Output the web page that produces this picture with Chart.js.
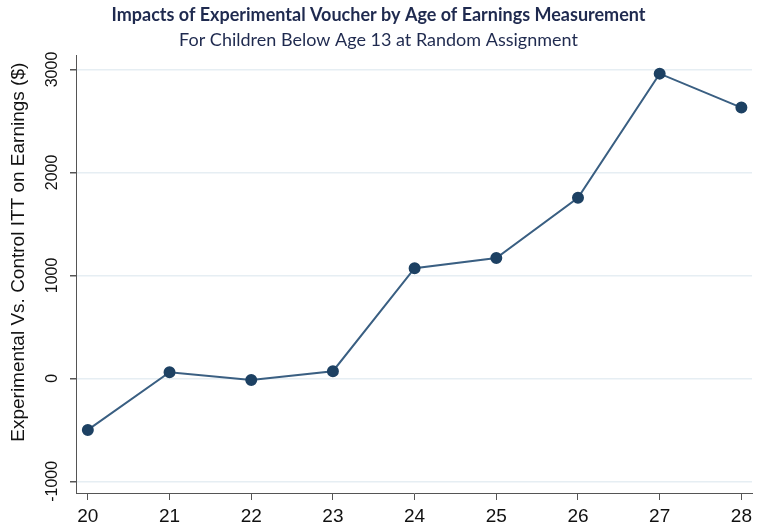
<!DOCTYPE html>
<html lang="en">
<head>
<meta charset="UTF-8" />
<title>Impacts of Experimental Voucher by Age of Earnings Measurement</title>
<script src="https://cdn.jsdelivr.net/npm/chart.js"></script>
<style>
  html, body { margin: 0; padding: 0; background: #fff; }
  #wrap { width: 759px; height: 527px; position: relative; }
</style>
</head>
<body>
<div id="wrap"><canvas id="grafico"></canvas></div>

<script>
  // data
  const ages = [20, 21, 22, 23, 24, 25, 26, 27, 28];
  const impacts = [-500, 60, -15, 70, 1070, 1170, 1755, 2960, 2630];
  const yTicks = [-1000, 0, 1000, 2000, 3000];
  const xTicks = [20, 21, 22, 23, 24, 25, 26, 27, 28];
  const yTitle = 'Experimental Vs. Control ITT on Earnings ($)';

  const navy = '#1f2a4f';
  const axisColor = '#555';
  const arial = '"Liberation Sans", Arial, sans-serif';

  // y tick labels and y title are rotated in the original, so draw them by hand
  const rotatedYLabels = {
    id: 'rotatedYLabels',
    afterDraw(chart) {
      const y = chart.scales.y;
      const ctx = chart.ctx;
      ctx.save();
      ctx.fillStyle = '#111';
      ctx.textAlign = 'center';
      ctx.textBaseline = 'middle';
      ctx.font = '16px ' + arial;
      yTicks.forEach(v => {
        const py = y.getPixelForValue(v);
        ctx.save();
        ctx.translate(y.right - 23, py);
        ctx.rotate(-Math.PI / 2);
        ctx.fillText(String(v), 0, 0);
        ctx.restore();
      });
      ctx.font = '19px ' + arial;
      ctx.translate(19, y.top + (y.bottom - y.top) * 0.45);
      ctx.rotate(-Math.PI / 2);
      ctx.fillText(yTitle, 0, 0);
      ctx.restore();
    }
  };

  new Chart(document.getElementById('grafico'), {
    type: 'line',
    data: {
      datasets: [{
        data: ages.map((a, i) => ({ x: a, y: impacts[i] })),
        borderColor: '#3a5f82',
        borderWidth: 2,
        pointBackgroundColor: '#1d4163',
        pointBorderColor: '#1d4163',
        pointRadius: 5,
        tension: 0
      }]
    },
    options: {
      responsive: true,
      maintainAspectRatio: false,
      animation: false,
      layout: { padding: { left: 0, right: 2, top: 1, bottom: 0 } },
      plugins: {
        legend: { display: false },
        tooltip: { enabled: false },
        title: {
          display: true,
          text: 'Impacts of Experimental Voucher by Age of Earnings Measurement',
          color: navy,
          font: { family: 'Lato', size: 18, weight: 'bold' },
          padding: { top: 3, bottom: 1 }
        },
        subtitle: {
          display: true,
          text: 'For Children Below Age 13 at Random Assignment',
          color: navy,
          font: { family: 'Lato', size: 18 },
          padding: { top: 3, bottom: 4 }
        }
      },
      scales: {
        x: {
          type: 'linear',
          min: 19.855,
          max: 28.13,
          afterBuildTicks: s => { s.ticks = xTicks.map(v => ({ value: v })); },
          afterFit: s => { s.height = 34; },
          grid: { drawOnChartArea: false, tickLength: 7, tickColor: axisColor },
          border: { color: axisColor, width: 1 },
          ticks: {
            color: '#111',
            padding: 5,
            font: { family: arial, size: 19 }
          }
        },
        y: {
          min: -1113,
          max: 3139,
          afterBuildTicks: s => { s.ticks = yTicks.map(v => ({ value: v })); },
          afterFit: s => { s.width = 76; },
          grid: { color: '#e6eef3', lineWidth: 1.5, tickLength: 6, tickColor: axisColor },
          border: { color: axisColor, width: 1 },
          ticks: { color: 'rgba(0,0,0,0)', font: { size: 16 } }
        }
      }
    },
    plugins: [rotatedYLabels]
  });
</script>
</body>
</html>
